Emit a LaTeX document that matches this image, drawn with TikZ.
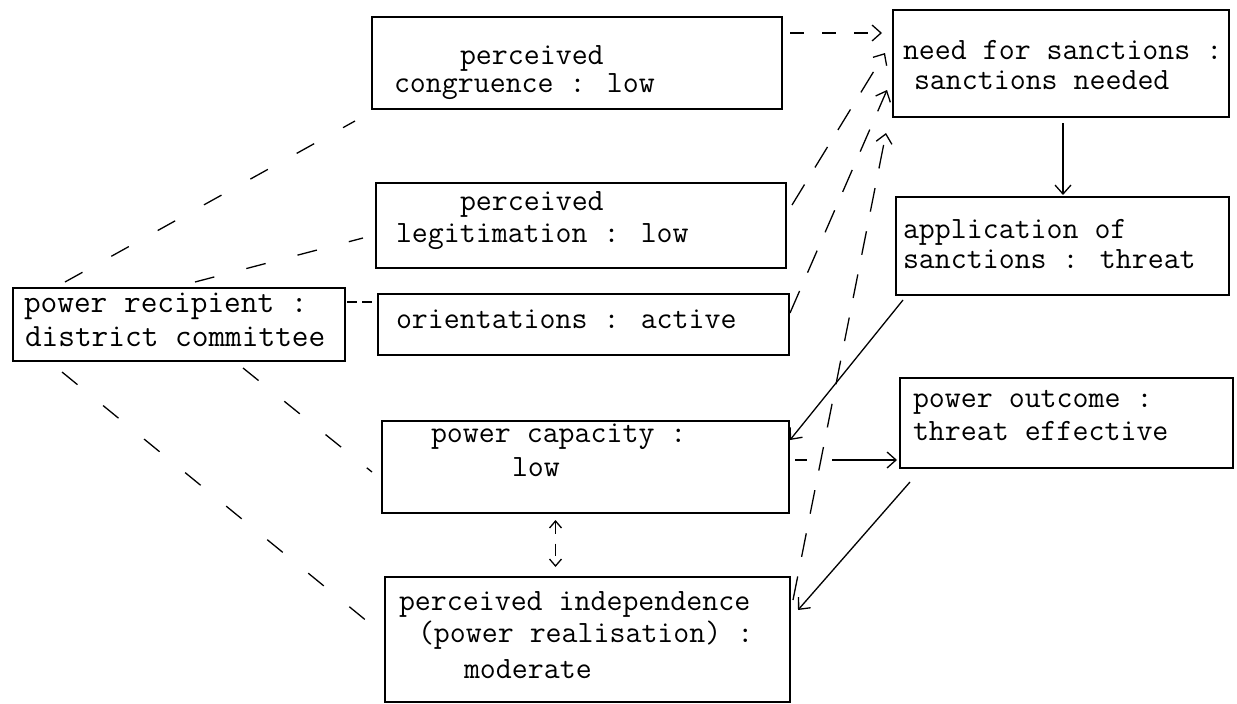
\documentclass[tikz,border=0pt]{standalone}
\usetikzlibrary{arrows.meta,calc}
\begin{document}
\begin{tikzpicture}[x=1pt,y=-1pt,
  box/.style={draw=black, line width=1.2pt, inner sep=0pt, outer sep=0pt},
  txt/.style={anchor=base west, inner sep=0pt, outer sep=0pt,
    font=\ttfamily\fontsize{31}{31}\selectfont},
  bigtxt/.style={txt, font=\ttfamily\fontsize{32.4}{32}\selectfont},
  tip/.style={-{Straight Barb[length=9pt,width=16pt,line width=1.3pt]}},
  link/.style={line width=1.3pt, dash pattern=on 20pt off 33pt},
  feed/.style={line width=1.3pt, dash pattern=on 24pt off 20pt, tip},
  solidarrow/.style={line width=1.3pt, tip}]
\useasboundingbox (0,0) rectangle (1237,704);

% boxes
\node[box, minimum width=332pt, minimum height=73pt]  (rec)    at (179,324.5)   {};
\node[box, minimum width=410pt, minimum height=92pt]  (cong)   at (577,63)      {};
\node[box, minimum width=410pt, minimum height=85pt]  (legit)  at (581,225.5)   {};
\node[box, minimum width=411pt, minimum height=61pt]  (orient) at (583.5,324.5) {};
\node[box, minimum width=407pt, minimum height=92pt]  (cap)    at (585.5,467)   {};
\node[box, minimum width=405pt, minimum height=125pt] (indep)  at (587.5,639.5) {};
\node[box, minimum width=336pt, minimum height=107pt] (need)   at (1061,63.5)   {};
\node[box, minimum width=333pt, minimum height=98pt]  (appl)   at (1062.5,246)  {};
\node[box, minimum width=333pt, minimum height=90pt]  (outc)   at (1066.5,423)  {};

% box texts
\node[bigtxt] (rec1) at (24,312)  {power recipient :};
\node[bigtxt] (rec2) at (25,346)  {district committee};
\node[txt] (cong1)   at (460,64)  {perceived};
\node[txt] (cong2)   at (394,92)  {congruence : low};
\node[txt] (legit1)  at (460,210) {perceived};
\node[txt] (legit2)  at (396,242) {legitimation : low};
\node[txt] (orient1) at (396,328) {orientations : active};
\node[txt] (cap1)    at (431,442) {power capacity :};
\node[txt] (cap2)    at (512,476) {low};
\node[txt] (indep1)  at (399,610) {perceived independence};
\node[txt] (indep2)  at (418,642) {(power realisation) :};
\node[txt] (indep3)  at (464,678) {moderate};
\node[txt] (need1)   at (903,59)  {need for sanctions :};
\node[txt] (need2)   at (914,89)  {sanctions needed};
\node[txt] (appl1)   at (903,238) {application of};
\node[txt] (appl2)   at (903,268) {sanctions : threat};
\node[txt] (outc1)   at (913,407) {power outcome :};
\node[txt] (outc2)   at (913,440) {threat effective};

% recipient links
\draw[link] ($(rec.north west)+(52,-6)$)  -- ($(cong.south west)+(-17,12)$);
\draw[link] ($(rec.north west)+(182,-6)$) -- ($(legit.west)+(-13,12.5)$);
\draw[line width=1.3pt, dash pattern=on 10pt off 5pt] ($(rec.north east)+(2,14)$) -- ($(orient.north west)+(-4,8)$);
\draw[link] ($(rec.south west)+(230,7)$)  -- ($(cap.west)+(-10,5)$);
\draw[link] ($(rec.south west)+(49,11)$)  -- ($(indep.west)+(-17,-17.5)$);

% feeding the need for sanctions
\draw[line width=1.3pt, dash pattern=on 14pt off 18pt, tip]
  ($(cong.north east)+(8,16)$) -- ($(need.north west)+(-11,23)$);
\draw[feed] ($(legit.north east)+(6,22)$)  -- ($(need.north west)+(-8,43)$);
\draw[feed] ($(orient.north east)+(1,19)$) -- ($(need.north west)+(-6,80)$);
\draw[feed] ($(indep.north east)+(3,23)$)  -- ($(need.south west)+(-7,16)$);

% sanction chain
\draw[solidarrow] ($(need.south)+(2,6)$) -- ($(appl.north)+(0.5,-2)$);
\draw[solidarrow] ($(appl.south west)+(7,5)$) -- ($(cap.north east)+(1,19)$);
\draw[line width=1.3pt, dash pattern=on 12pt off 25pt on 200pt off 0pt, tip]
  ($(cap.east)+(6,-7)$) -- ($(outc.west)+(-3,37)$);
\draw[solidarrow] ($(outc.south west)+(10,14)$) -- ($(indep.north east)+(8,33)$);

% capacity <-> independence
\draw[line width=1.3pt, dash pattern=on 12pt off 10pt,
  {Straight Barb[length=7pt,width=12pt,line width=1.3pt]}-{Straight Barb[length=7pt,width=12pt,line width=1.3pt]}]
  ($(cap.south)+(-30,7)$) -- ($(indep.north)+(-32,-10)$);
\end{tikzpicture}
\end{document}
